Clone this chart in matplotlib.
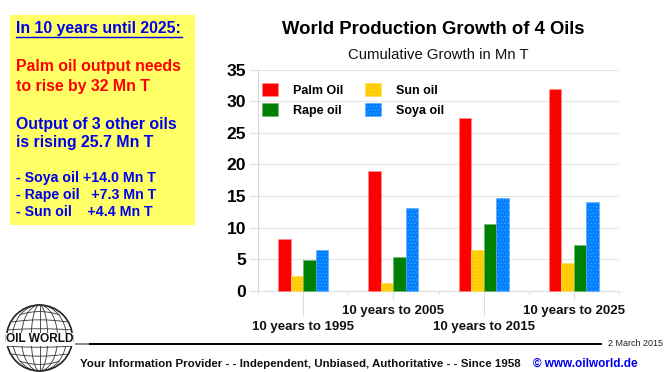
import numpy as np
import matplotlib
matplotlib.use('Agg')
import matplotlib.pyplot as plt
from matplotlib.patches import Circle, Ellipse, Rectangle

plt.rcParams['font.family'] = ['Liberation Sans', 'DejaVu Sans']
plt.rcParams['hatch.linewidth'] = 0.4

W = 670
H = 372

periods = ['10 years to 1995', '10 years to 2005', '10 years to 2015', '10 years to 2025']
palm = [8.2, 18.9, 27.4, 32.0]
sun = [2.3, 1.2, 6.4, 4.4]
rape = [4.9, 5.4, 10.5, 7.3]
soya = [6.5, 13.1, 14.7, 14.0]
y_ticks = [0, 5, 10, 15, 20, 25, 30, 35]

fig = plt.figure(figsize=(W / 100, H / 100), dpi=100, facecolor='white')

# pixel overlay for the panel, logo and footer
bg = fig.add_axes([0, 0, 1, 1])
bg.set_xlim(0, W)
bg.set_ylim(H, 0)
bg.axis('off')

ax = fig.add_axes([258 / W, 1 - 290.7 / H, 361 / W, 221 / H])
x = np.arange(len(periods))
bw = 0.139
ax.bar(x - 1.5 * bw, palm, bw, color='#FF0000', edgecolor='#FF9090', linewidth=0.4, zorder=3, clip_on=False, label='Palm Oil')
ax.bar(x - 0.5 * bw, sun, bw, color='#FFCC00', edgecolor='#FFDD55', linewidth=0.4, hatch='.....', zorder=3, clip_on=False, label='Sun oil')
ax.bar(x + 0.5 * bw, rape, bw, color='#008000', edgecolor='#70B070', linewidth=0.4, zorder=3, clip_on=False, label='Rape oil')
ax.bar(x + 1.5 * bw, soya, bw, color='#0080FF', edgecolor='#55AAFF', linewidth=0.4, hatch='.....', zorder=3, clip_on=False, label='Soya oil')

ax.set_xlim(-0.5, 3.5)
ax.set_ylim(0, 35)
ax.set_yticks(y_ticks)
ax.set_xticks([-0.5, 0.5, 1.5, 2.5, 3.5])
ax.set_xticklabels([])
ax.tick_params(axis='x', length=2, color='#E0E0E0', width=0.8)
ax.tick_params(axis='y', length=6.5, color='#E0E0E0', width=0.8, pad=2, labelsize=12.6)
for lab in ax.get_yticklabels():
    lab.set_fontweight('bold')
ax.grid(axis='y', color='#E6E6E6', linewidth=0.8, zorder=0)
ax.set_axisbelow(True)
for s in ['top', 'right']:
    ax.spines[s].set_visible(False)
ax.spines['left'].set_color('#D8D8D8')
ax.spines['bottom'].set_color('#E0E0E0')

# staggered category labels with their drop lines
for i, name in enumerate(periods):
    drop = 24 if i % 2 == 0 else 8
    text_y = 327 if i % 2 == 0 else 311
    tx = ax.transData.transform((i, 0))[0]
    bg.plot([tx, tx], [291, 291 + drop], color='#DDDDDD', lw=0.8, zorder=1)
    bg.text(tx, text_y, name, ha='center', va='center', fontsize=9.5, fontweight='bold', color='#111111')

handles, labels = ax.get_legend_handles_labels()
leg = ax.legend([handles[0], handles[2], handles[1], handles[3]],
                [labels[0], labels[2], labels[1], labels[3]],
                ncol=2, loc='upper left', bbox_to_anchor=(4 / 361, 0.94), frameon=False,
                prop={'weight': 'bold', 'size': 9}, handlelength=1.25, handleheight=1.25,
                handletextpad=1.2, columnspacing=1.8, labelspacing=0.5, borderpad=0, borderaxespad=0)
leg.set_zorder(5)

# yellow note panel
blue = '#0000EE'
bg.add_patch(Rectangle((10, 15), 185, 210, facecolor='#FFFF66', edgecolor='none'))
bg.text(16, 29, 'In 10 years until 2025:', color=blue, fontsize=11.4, fontweight='bold', va='center')
bg.plot([16, 182], [36.5, 36.5], color=blue, lw=1)
bg.text(16, 67, 'Palm oil output needs', color='#FF0000', fontsize=11.4, fontweight='bold', va='center')
bg.text(16, 86, 'to rise by 32 Mn T', color='#FF0000', fontsize=11.4, fontweight='bold', va='center')
bg.text(16, 124, 'Output of 3 other oils', color=blue, fontsize=11.4, fontweight='bold', va='center')
bg.text(16, 143, 'is rising 25.7 Mn T', color=blue, fontsize=11.4, fontweight='bold', va='center')
bg.text(16, 178, '- Soya oil +14.0 Mn T', color=blue, fontsize=10.2, fontweight='bold', va='center')
bg.text(16, 195, '- Rape oil   +7.3 Mn T', color=blue, fontsize=10.2, fontweight='bold', va='center')
bg.text(16, 212, '- Sun oil    +4.4 Mn T', color=blue, fontsize=10.2, fontweight='bold', va='center')

# titles
bg.text(433, 29, 'World Production Growth of 4 Oils', ha='center', va='center', fontsize=13.3, fontweight='bold', color='black')
bg.text(438, 55, 'Cumulative Growth in Mn T', ha='center', va='center', fontsize=10.7, color='#111111')

# globe logo
cx, cy, r = 39.5, 338, 33
bg.add_patch(Circle((cx, cy), r, facecolor='white', edgecolor='#222222', lw=1.2, zorder=2))
for f in [0.25, 0.55, 0.82]:
    bg.add_patch(Ellipse((cx, cy), 2 * r * f, 2 * r, fill=False, edgecolor='#333333', lw=0.6, zorder=2))
bg.plot([cx, cx], [cy - r, cy + r], color='#333333', lw=0.6, zorder=2)
t = np.linspace(-1, 1, 41)
for d in [-0.8, -0.55, -0.28, 0.28, 0.55, 0.8]:
    half = r * np.sqrt(1 - d * d)
    bend = 0.12 * d * r * (t ** 2)
    bg.plot(cx + half * t, cy + d * r - bend, color='#333333', lw=0.6, zorder=2)
bg.add_patch(Rectangle((6, 333), 67, 13, facecolor='white', edgecolor='none', zorder=3))
bg.text(cx, 339.5, 'OIL WORLD', ha='center', va='center', fontsize=8.6, fontweight='bold', color='#111111', zorder=4)

# footer
bg.plot([76, 90], [344, 344], color='#888888', lw=1.4)
bg.plot([90, 601], [344, 344], color='black', lw=1.4)
bg.text(608, 344, '2 March 2015', fontsize=6.5, va='center', color='#222222')
bg.text(80, 364, 'Your Information Provider - - Independent, Unbiased, Authoritative - - Since 1958',
        fontsize=8.25, fontweight='bold', va='center', color='#111111')
bg.text(533, 364, '© www.oilworld.de', fontsize=8.5, fontweight='bold', va='center', color=blue)

fig.savefig('out.png', dpi=100)
